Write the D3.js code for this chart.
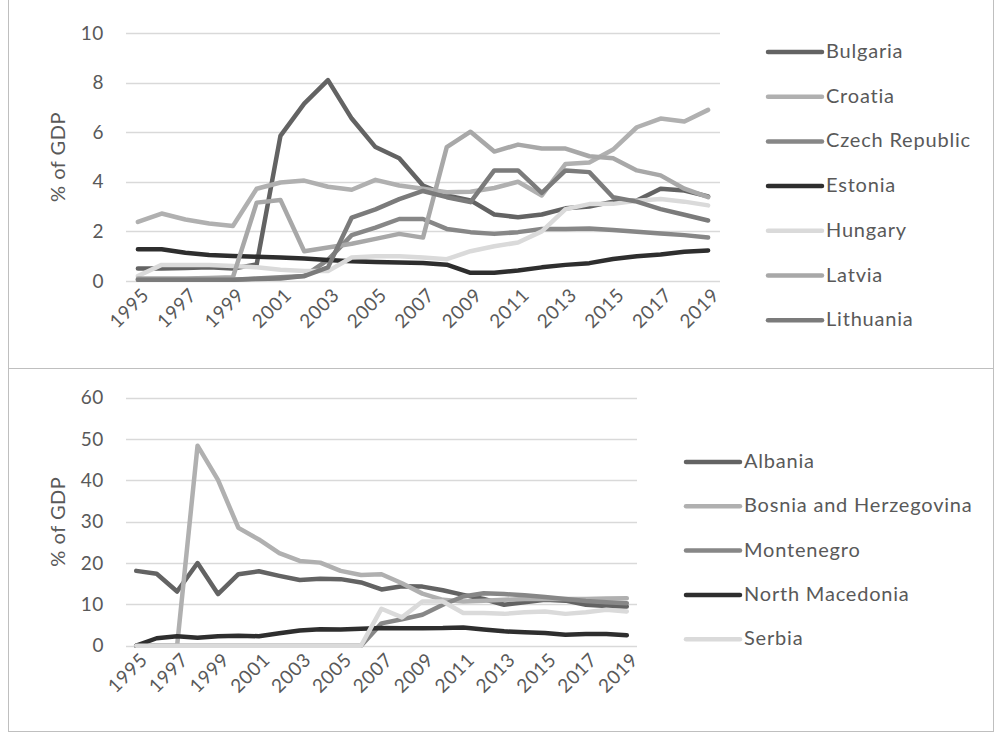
<!DOCTYPE html>
<html>
<head>
<meta charset="utf-8">
<script src="https://cdn.jsdelivr.net/npm/d3@7"></script>
<style>
  body { margin: 0; background: #fff; }
  svg { display: block; }
  text { font-family: Lato, "Liberation Sans", sans-serif; fill: #595959; }
</style>
</head>
<body>
<svg id="chart" width="1003" height="734"></svg>
<script>
// Categories
const years = ["1995","1996","1997","1998","1999","2000","2001","2002","2003","2004","2005","2006","2007",
               "2008","2009","2010","2011","2012","2013","2014","2015","2016","2017","2018","2019"];
const yearLabels = ["1995","1997","1999","2001","2003","2005","2007","2009","2011","2013","2015","2017","2019"];

// Upper panel: EU members
const topTicks = [0, 2, 4, 6, 8, 10];
const bulgaria  = [0.50,0.50,0.52,0.55,0.50,0.67,5.85,7.15,8.10,6.55,5.40,4.95,3.85,3.45,3.25,2.68,2.57,2.68,2.93,3.00,3.20,3.25,3.72,3.65,3.41];
const croatia   = [2.38,2.72,2.48,2.32,2.22,3.72,3.97,4.05,3.80,3.68,4.08,3.85,3.72,3.58,3.60,3.75,4.00,3.45,4.72,4.78,5.30,6.20,6.55,6.43,6.90];
const czech     = [0.05,0.05,0.05,0.05,0.05,0.10,0.15,0.20,0.85,1.85,2.15,2.50,2.50,2.10,1.97,1.90,1.97,2.10,2.10,2.12,2.06,1.99,1.92,1.85,1.75];
const estonia   = [1.28,1.28,1.14,1.05,1.01,0.98,0.95,0.91,0.85,0.80,0.77,0.75,0.73,0.66,0.33,0.33,0.42,0.55,0.65,0.72,0.89,1.00,1.07,1.18,1.23];
const hungary   = [0.20,0.65,0.65,0.65,0.60,0.55,0.45,0.40,0.40,0.95,1.00,1.00,0.95,0.88,1.20,1.40,1.55,2.00,2.90,3.10,3.11,3.24,3.31,3.20,3.05];
const latvia    = [0.10,0.10,0.10,0.12,0.15,3.16,3.27,1.20,1.35,1.50,1.70,1.90,1.75,5.40,6.02,5.22,5.50,5.34,5.34,5.03,4.95,4.46,4.26,3.72,3.38];
const lithuania = [0.05,0.05,0.05,0.05,0.05,0.08,0.10,0.20,0.55,2.56,2.89,3.30,3.63,3.38,3.18,4.46,4.46,3.55,4.46,4.39,3.38,3.20,2.90,2.67,2.44];

// Lower panel: Western Balkans
const bottomTicks = [0, 10, 20, 30, 40, 50, 60];
const albania    = [18.1,17.4,13.1,20.0,12.5,17.3,18.0,16.9,15.9,16.2,16.1,15.3,13.6,14.4,14.3,13.4,12.3,11.3,9.9,10.5,11.1,10.9,9.9,9.6,9.5];
const bosnia     = [0,0,0,48.4,40.1,28.5,25.7,22.4,20.5,20.1,18.1,17.1,17.3,15.1,12.6,11.1,10.7,10.9,11.1,11.3,11.3,11.3,11.3,11.4,11.5];
const montenegro = [0,0,0,0,0,0,0,0,0,0,0,0,5.4,6.4,7.5,9.9,11.9,12.7,12.5,12.2,11.8,11.3,10.8,10.5,10.3];
const macedonia  = [0,1.8,2.3,1.9,2.3,2.4,2.3,3.0,3.7,4.0,3.9,4.1,4.3,4.25,4.25,4.27,4.4,3.9,3.47,3.23,3.06,2.66,2.82,2.82,2.5];
const serbia     = [0,0,0,0,0,0,0,0,0,0,0,0,8.95,6.85,10.7,10.7,7.9,7.9,7.7,8.1,8.3,7.7,8.1,8.7,8.3];

const topNames = ["Bulgaria","Croatia","Czech Republic","Estonia","Hungary","Latvia","Lithuania"];
const topValues = [bulgaria, croatia, czech, estonia, hungary, latvia, lithuania];
const bottomNames = ["Albania","Bosnia and Herzegovina","Montenegro","North Macedonia","Serbia"];
const bottomValues = [albania, bosnia, montenegro, macedonia, serbia];

// Grey shades per series, in legend order
const topColors = ["#636363","#b0b0b0","#878787","#2e2e2e","#dadada","#a8a8a8","#7b7b7b"];
const bottomColors = ["#636363","#b0b0b0","#878787","#2e2e2e","#dadada"];

const svg = d3.select("#chart");

// Panel frames
svg.append("rect").attr("x", 8.5).attr("y", -1).attr("width", 985).attr("height", 369.5)
  .attr("fill", "none").attr("stroke", "#bfbfbf").attr("stroke-width", 1);
svg.append("rect").attr("x", 8.5).attr("y", 368.5).attr("width", 985).attr("height", 363)
  .attr("fill", "none").attr("stroke", "#bfbfbf").attr("stroke-width", 1);

function drawPanel(opts) {
  const g = svg.append("g");
  const x = d3.scaleBand().domain(years).range([opts.left, opts.right]);
  const y = d3.scaleLinear().domain([0, opts.max]).range([opts.bottom, opts.top]);
  const cx = d => x(d) + x.bandwidth() / 2;

  // horizontal gridlines
  g.append("g").selectAll("line").data(opts.ticks).join("line")
    .attr("x1", opts.left).attr("x2", opts.right)
    .attr("y1", d => Math.round(y(d)) + 0.5).attr("y2", d => Math.round(y(d)) + 0.5)
    .attr("stroke", "#d9d9d9").attr("stroke-width", 1.3);

  // value axis labels
  const yAxis = d3.axisLeft(y).tickValues(opts.ticks).tickSize(0).tickPadding(0);
  const ya = g.append("g").attr("transform", `translate(${opts.left - 22},0)`).call(yAxis);
  ya.select(".domain").remove();
  ya.selectAll("text").style("font-size", "19px").style("letter-spacing", "0.6px").attr("fill", "#595959")
    .style("font-family", "Lato, 'Liberation Sans', sans-serif");

  // axis title
  g.append("text")
    .attr("transform", `translate(${opts.titleX},${(opts.top + opts.bottom) / 2}) rotate(-90)`)
    .attr("text-anchor", "middle").attr("dominant-baseline", "middle")
    .style("font-size", "20px").style("letter-spacing", "0.5px").text("% of GDP");

  // category labels, rotated
  const xAxis = d3.axisBottom(x).tickValues(yearLabels).tickSize(0).tickPadding(0);
  const xa = g.append("g").attr("transform", `translate(0,${opts.bottom})`).call(xAxis);
  xa.select(".domain").remove();
  xa.selectAll("text")
    .style("font-size", "19px").style("letter-spacing", "0.6px").attr("fill", "#595959")
    .style("font-family", "Lato, 'Liberation Sans', sans-serif")
    .attr("text-anchor", "end")
    .attr("dy", null).attr("y", null)
    .attr("transform", "translate(9,12) rotate(-45)")
    .attr("dominant-baseline", "middle");

  // series lines
  const line = d3.line().x((d, i) => cx(years[i])).y(d => y(d));
  g.append("g").selectAll("path").data(opts.values).join("path")
    .attr("d", d => line(d))
    .attr("fill", "none")
    .attr("stroke", (d, i) => opts.colors[i])
    .attr("stroke-width", 4.5)
    .attr("stroke-linejoin", "round")
    .attr("stroke-linecap", "round");

  // legend
  const lg = g.append("g").selectAll("g").data(opts.names).join("g")
    .attr("transform", (d, i) => `translate(${opts.legendX},${opts.legendY + i * opts.legendStep})`);
  lg.append("line").attr("x1", 0).attr("x2", 54).attr("y1", 0).attr("y2", 0)
    .attr("stroke", (d, i) => opts.colors[i]).attr("stroke-width", 4.5).attr("stroke-linecap", "round");
  lg.append("text").attr("x", 58).attr("y", 1).attr("dominant-baseline", "middle")
    .style("font-size", "20px").style("letter-spacing", "0.8px").text(d => d);
}

drawPanel({
  left: 126, right: 720, top: 33, bottom: 281, max: 10, ticks: topTicks,
  names: topNames, values: topValues, colors: topColors,
  titleX: 60, legendX: 768, legendY: 52, legendStep: 44.7
});

drawPanel({
  left: 126, right: 637, top: 397.7, bottom: 645.7, max: 60, ticks: bottomTicks,
  names: bottomNames, values: bottomValues, colors: bottomColors,
  titleX: 60, legendX: 686, legendY: 462, legendStep: 44.3
});
</script>
</body>
</html>
